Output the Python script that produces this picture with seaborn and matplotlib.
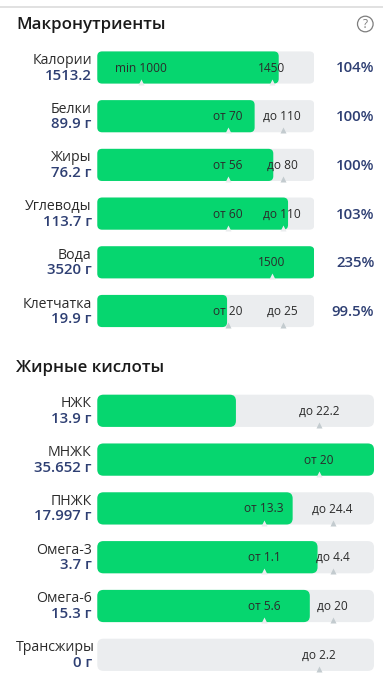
import matplotlib
matplotlib.use("Agg")
import matplotlib.pyplot as plt
import pandas as pd
import seaborn as sns
from matplotlib.patches import FancyBboxPatch, Circle

sns.set_theme(style="white")
plt.rcParams['font.family'] = ['Open Sans', 'Noto Sans', 'DejaVu Sans']

W, H = 383, 680
GREEN = "#06d66f"
TRACK = "#ebedef"
NAVY = "#2e3f73"
INK = "#2b2b2b"

# Macronutrients
macro_names = ["Калории", "Белки", "Жиры", "Углеводы", "Вода", "Клетчатка"]
macro_values = ["1513.2", "89.9 г", "76.2 г", "113.7 г", "3520 г", "19.9 г"]
macro_fill = [83.6, 72.5, 81.1, 87.9, 100, 59.8]
macro_low_pos = [20.3, 60.4, 60.4, 60.4, None, 60.4]
macro_low_txt = ["min 1000", "от 70", "от 56", "от 60", None, "от 20"]
macro_high_pos = [80.4, 85.4, 85.4, 85.4, 80.4, 85.4]
macro_high_txt = ["1450", "до 110", "до 80", "до 110", "1500", "до 25"]
macro_pct = ["104%", "100%", "100%", "103%", "235%", "99.5%"]

# Fatty acids
fat_names = ["НЖК", "МНЖК", "ПНЖК", "Омега-3", "Омега-6", "Трансжиры"]
fat_values = ["13.9 г", "35.652 г", "17.997 г", "3.7 г", "15.3 г", "0 г"]
fat_fill = [50.1, 100, 70.6, 79.6, 76.8, 0]
fat_low_pos = [None, 80.2, 60.4, 60.4, 60.4, None]
fat_low_txt = [None, "от 20", "от 13.3", "от 1.1", "от 5.6", None]
fat_high_pos = [80.2, None, 85.2, 85.2, 85.2, 80.2]
fat_high_txt = ["до 22.2", None, "до 24.4", "до 4.4", "до 20", "до 2.2"]

fig = plt.figure(figsize=(W / 100, H / 100), dpi=100, facecolor="white")


def rounded(ax, patches, colour, aspect, zorder):
    for p in list(patches):
        if p.get_width() > 0:
            ax.add_patch(FancyBboxPatch(
                (p.get_x(), p.get_y()), p.get_width(), p.get_height(),
                boxstyle="round,pad=0,rounding_size=2.2",
                mutation_aspect=aspect, fc=colour, ec="none", zorder=zorder))
        p.remove()


def panel(left, top, width, step, names, values, fill, lo_pos, lo_txt, hi_pos, hi_txt, pct=None):
    n = len(names)
    ax = fig.add_axes([left / W, 1 - (top + n * step) / H, width / W, n * step / H])
    df = pd.DataFrame({"name": names, "track": [100] * n, "fill": fill})
    sns.barplot(df, y="name", x="track", color=TRACK, saturation=1, width=0.66, ax=ax)
    track = list(ax.patches)
    sns.barplot(df, y="name", x="fill", color=GREEN, saturation=1, width=0.66, ax=ax)
    green = [p for p in ax.patches if p not in track]
    ax.set_xlim(0, 100)
    ax.set_ylim(n - 0.5, -0.5)
    aspect = (1 / step) / (100 / width)
    rounded(ax, track, TRACK, aspect, 1)
    rounded(ax, green, GREEN, aspect, 2)
    ax.set_axis_off()
    for i in range(n):
        for pos, txt in ((lo_pos[i], lo_txt[i]), (hi_pos[i], hi_txt[i])):
            if pos is None:
                continue
            mark = TRACK if pos < fill[i] else "#c3cbcf"
            ax.plot([pos], [i + 0.29], marker="^", ms=3.8, mfc=mark, mec="none",
                    ls="none", zorder=3, clip_on=False)
            ax.annotate(txt, (pos, i), xytext=(-0.3, -0.5), textcoords="offset pixels",
                        ha="center", va="center", fontsize=8.6, color=INK, zorder=4)
        xoff = 0 if names[i] != "Трансжиры" else 3
        ax.annotate(names[i], (0, i), xycoords=ax.get_yaxis_transform(), xytext=(-5.5 + xoff, 7),
                    textcoords="offset pixels", ha="right", va="center", fontsize=10.2, color=INK)
        ax.annotate(values[i], (0, i), xycoords=ax.get_yaxis_transform(), xytext=(-5.5, -8),
                    textcoords="offset pixels", ha="right", va="center", fontsize=10.8,
                    color=NAVY, fontweight="semibold")
        if pct:
            ax.annotate(pct[i], (1 + 60 / width, i), xycoords=ax.get_yaxis_transform(),
                        xytext=(0, -1), textcoords="offset pixels",
                        ha="right", va="center", fontsize=10.8, color=NAVY, fontweight="semibold")
    return ax


panel(97.3, 43.15, 217, 48.7, macro_names, macro_values, macro_fill, macro_low_pos, macro_low_txt,
      macro_high_pos, macro_high_txt, macro_pct)
panel(97.3, 386.4, 276.7, 48.8, fat_names, fat_values, fat_fill, fat_low_pos, fat_low_txt,
      fat_high_pos, fat_high_txt)

over = fig.add_axes([0, 0, 1, 1], facecolor="none")
over.set_xlim(0, W)
over.set_ylim(H, 0)
over.set_axis_off()
over.axhline(6.7, color="#dcdcdc", lw=1.2)
over.text(16.5, 25, "Макронутриенты", fontsize=12.2, color="#1a1a1a", fontweight="semibold", va="center")
over.text(16.5, 368.5, "Жирные кислоты", fontsize=12.2, color="#1a1a1a", fontweight="semibold", va="center")
over.add_patch(Circle((365.3, 24), 7.8, fc="none", ec="#7d7d7d", lw=0.9))
over.text(365.3, 24.5, "?", fontsize=8.5, color="#7d7d7d", ha="center", va="center")

fig.savefig("out.png", dpi=100)
